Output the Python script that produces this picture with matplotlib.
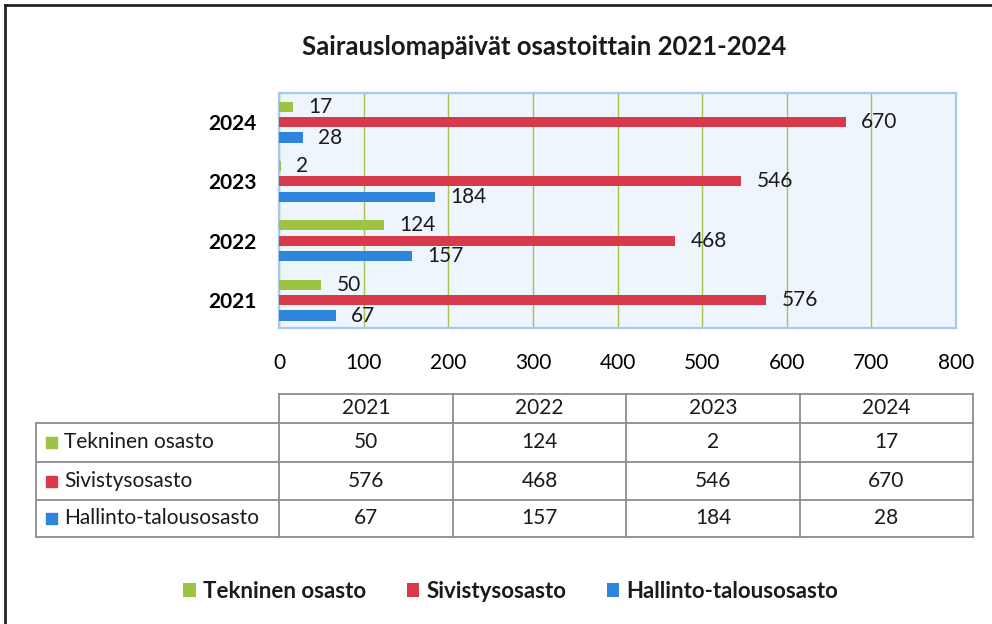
import matplotlib
matplotlib.use("Agg")
import matplotlib.pyplot as plt
from matplotlib.patches import Rectangle

years = ["2021", "2022", "2023", "2024"]
departments = ["Tekninen osasto", "Sivistysosasto", "Hallinto-talousosasto"]
tekninen = [50, 124, 2, 17]
sivistys = [576, 468, 546, 670]
hallinto = [67, 157, 184, 28]
x_ticks = [0, 100, 200, 300, 400, 500, 600, 700, 800]
title = "Sairauslomapäivät osastoittain 2021-2024"

colors = ["#9cc341", "#d93a4b", "#2e86dc"]

plt.rcParams["font.family"] = ["Lato", "DejaVu Sans"]
plt.rcParams["text.color"] = "#1a1a1a"

W, H = 992, 624
fig = plt.figure(figsize=(W / 100, H / 100), dpi=100)


def fx(px):
    return px / W


def fy(py):
    return 1 - py / H


# main bar chart
ax = fig.add_axes([fx(279), fy(328), fx(956) - fx(279), fy(93) - fy(328)])
ax.set_facecolor("#eef5fc")

series = [tekninen, sivistys, hallinto]
offsets = [0.26, 0.0, -0.26]
bars = []
for vals, off, col, name in zip(series, offsets, colors, departments):
    pos = [i + off for i in range(len(years))]
    b = ax.barh(pos, vals, height=0.17, color=col, label=name, zorder=3)
    bars.append(b)
    for p, v in zip(pos, vals):
        ax.annotate(str(v), (v, p), xytext=(11, 0), textcoords="offset points",
                    va="center", ha="left", fontsize=15, zorder=4)

ax.set_xlim(0, 800)
ax.set_ylim(-0.47, 3.49)
ax.set_xticks(x_ticks)
ax.set_xticklabels([str(t) for t in x_ticks], fontsize=15)
ax.set_yticks(range(len(years)))
ax.set_yticklabels(years, fontsize=15, fontweight="bold")
ax.tick_params(axis="x", length=0, pad=18)
ax.tick_params(axis="y", length=0, pad=16)
ax.xaxis.grid(True, color="#a3c549", lw=1, zorder=1)
ax.set_axisbelow(True)
for s in ax.spines.values():
    s.set_color("#a9c8ee")
    s.set_linewidth(1.6)

fig.text(fx(544), fy(47), title, ha="center", va="center",
         fontsize=18.5, fontweight="bold")

# overlay in pixel coordinates for frame and data table
ov = fig.add_axes([0, 0, 1, 1])
ov.set_xlim(0, W)
ov.set_ylim(H, 0)
ov.axis("off")
ov.plot([5, W], [5, 5], color="#222222", lw=2)
ov.plot([5, 5], [5, H], color="#222222", lw=2)

cols = [279, 453, 626, 800, 973]
rows = [394, 423, 462, 500, 537]
line_kw = dict(color="#8c8c8c", lw=1.3)
ov.plot([cols[0], cols[-1]], [rows[0], rows[0]], **line_kw)
for r in rows[1:]:
    ov.plot([36, cols[-1]], [r, r], **line_kw)
ov.plot([36, 36], [rows[1], rows[-1]], **line_kw)
for c in cols:
    ov.plot([c, c], [rows[0], rows[-1]], **line_kw)

for j, yr in enumerate(years):
    cx = (cols[j] + cols[j + 1]) / 2
    ov.text(cx, (rows[0] + rows[1]) / 2, yr, ha="center", va="center", fontsize=15)

for i, (name, vals, col) in enumerate(zip(departments, series, colors)):
    cy = (rows[i + 1] + rows[i + 2]) / 2
    ov.add_patch(Rectangle((46, cy - 5.5), 11, 11, color=col))
    ov.text(64, cy, name, ha="left", va="center", fontsize=15)
    for j, v in enumerate(vals):
        cx = (cols[j] + cols[j + 1]) / 2
        ov.text(cx, cy, str(v), ha="center", va="center", fontsize=15)

fig.legend(handles=bars, loc="center", bbox_to_anchor=(fx(511), fy(591)),
           ncol=3, frameon=False, handlelength=0.55, handleheight=0.6,
           handletextpad=0.35, columnspacing=1.8,
           prop={"weight": "bold", "size": 16})

fig.savefig("out.png", dpi=100, facecolor="white")
